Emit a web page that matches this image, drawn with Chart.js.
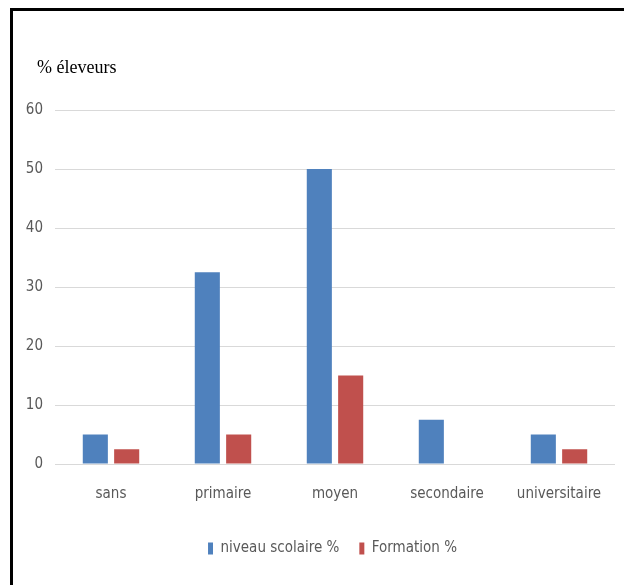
<!DOCTYPE html>
<html>
<head>
<meta charset="utf-8">
<script src="https://cdn.jsdelivr.net/npm/chart.js@4.4.0/dist/chart.umd.min.js"></script>
<style>
  body { margin: 0; background: #fff; overflow: hidden; }
  #wrap { position: relative; width: 624px; height: 585px; overflow: hidden; }
  #frame { position: absolute; left: 10px; top: 8px; width: 700px; height: 700px; border: 3px solid #000; box-sizing: border-box; }
  canvas { position: absolute; left: 0; top: 0; }
</style>
</head>
<body>
<div id="wrap">
  <canvas id="myChart" width="624" height="585"></canvas>
  <div id="frame"></div>
</div>
<script>
// categories and values
var niveaux = ['sans', 'primaire', 'moyen', 'secondaire', 'universitaire']
var niveauScolaire = [5, 32.5, 50, 7.5, 5]
var formation = [2.5, 5, 15, 0, 2.5]
var yTicks = [0, 10, 20, 30, 40, 50, 60]
var titre = '% éleveurs'

var grey = '#595959'
var narrow = "'Liberation Sans Narrow', 'DejaVu Sans Condensed', sans-serif"

// title sits left of the axis labels, so draw it by hand
var titlePlugin = {
    id: 'titreGauche',
    afterDraw: function(chart) {
        var c = chart.ctx
        c.save()
        c.font = "18px 'Liberation Serif', serif"
        c.fillStyle = '#000'
        c.textBaseline = 'middle'
        c.fillText(titre, 37, 68)
        c.restore()
    }
}

// legend is a bit right of the centre in the original
var legendNudge = {
    id: 'legendNudge',
    afterLayout: function(chart) {
        chart.legend.left += 20
        chart.legend.right += 20
    }
}

var ctx = document.getElementById('myChart').getContext('2d')

var chart = new Chart(ctx, {
    type: 'bar',
    data: {
        labels: niveaux,
        datasets: [
            {
                label: 'niveau scolaire %',
                data: niveauScolaire,
                backgroundColor: '#4F81BD'
            },
            {
                label: 'Formation %',
                data: formation,
                backgroundColor: '#C0504D'
            }
        ]
    },
    plugins: [titlePlugin, legendNudge],
    options: {
        responsive: false,
        animation: false,
        categoryPercentage: 0.56,
        barPercentage: 0.8,
        layout: {
            padding: { top: 110, left: 10, right: 9, bottom: 19 }
        },
        plugins: {
            legend: {
                position: 'bottom',
                labels: {
                    color: grey,
                    boxWidth: 5,
                    boxHeight: 12,
                    padding: 20,
                    font: { family: narrow, size: 15 }
                }
            },
            tooltip: { enabled: false }
        },
        scales: {
            x: {
                grid: { display: false },
                border: { display: false },
                afterFit: function(axis) { axis.height = 57 },
                ticks: { color: grey, padding: 13, font: { family: narrow, size: 15 } }
            },
            y: {
                min: 0,
                max: 60,
                afterBuildTicks: function(axis) {
                    axis.ticks = yTicks.map(function(v){ return { value: v } })
                },
                afterFit: function(axis) { axis.width = 45 },
                grid: { color: '#d9d9d9', drawTicks: false },
                border: { display: false },
                ticks: { color: grey, padding: 12, font: { family: narrow, size: 15 } }
            }
        }
    }
})
</script>
</body>
</html>
